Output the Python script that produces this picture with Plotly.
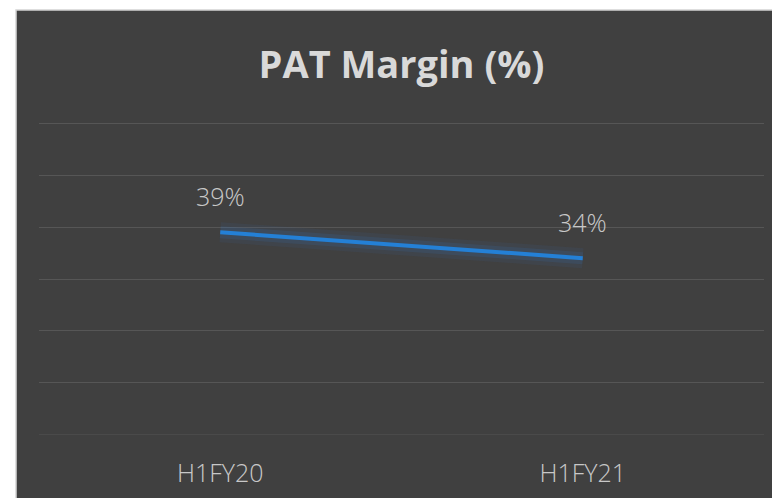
import plotly.graph_objects as go

periods = ["H1FY20", "H1FY21"]
pat_margin = [39, 34]
labels = [f"{v}%" for v in pat_margin]

BG = "#404040"
GRID = "#565656"
LINE = "#2480d6"

fig = go.Figure()

# soft glow under the line
for w, a in [(20, 0.07), (12, 0.12)]:
    fig.add_trace(
        go.Scatter(
            x=periods, y=pat_margin, mode="lines",
            line=dict(color=f"rgba(50,130,220,{a})", width=w),
            hoverinfo="skip", showlegend=False,
        )
    )
fig.add_trace(
    go.Scatter(
        x=periods, y=pat_margin, mode="lines",
        line=dict(color=LINE, width=4),
        showlegend=False,
    )
)

for p, v, t in zip(periods, pat_margin, labels):
    fig.add_annotation(
        x=p, y=v, text=t, showarrow=False, yshift=36,
        font=dict(family="Open Sans", size=25, color="#c8c8c8", weight=300),
    )

# chart frame (dark box with light border)
fig.add_shape(
    type="rect", xref="paper", yref="paper",
    x0=-0.0317, x1=1.02, y0=-0.25, y1=1.357,
    fillcolor=BG, line=dict(color="#d4d4d4", width=1.5), layer="below",
)

fig.update_layout(
    width=772, height=498,
    paper_bgcolor="white", plot_bgcolor="rgba(0,0,0,0)",
    margin=dict(l=39, r=8, t=122, b=62),
    title=dict(
        text="<b>PAT Margin (%)</b>", xref="paper", x=0.5, xanchor="center",
        y=0.871, yanchor="middle",
        font=dict(family="Open Sans", size=38, color="#d9d9d9"),
    ),
    showlegend=False,
)
fig.update_xaxes(
    type="category", range=[-0.5, 1.5], showgrid=False, showline=False,
    ticks="", ticklabelstandoff=20,
    tickfont=dict(family="Open Sans", size=25, color="#c8c8c8", weight=300),
)
fig.update_yaxes(
    range=[-0.2, 60.2], dtick=10, showticklabels=False, showgrid=True,
    gridcolor=GRID, gridwidth=1.2, zeroline=True, zerolinecolor="#4a4a4a",
    zerolinewidth=1, showline=False,
)

fig.write_html(
    "out.html",
    config={"displayModeBar": False},
    post_script="document.body.style.margin='0';",
)
